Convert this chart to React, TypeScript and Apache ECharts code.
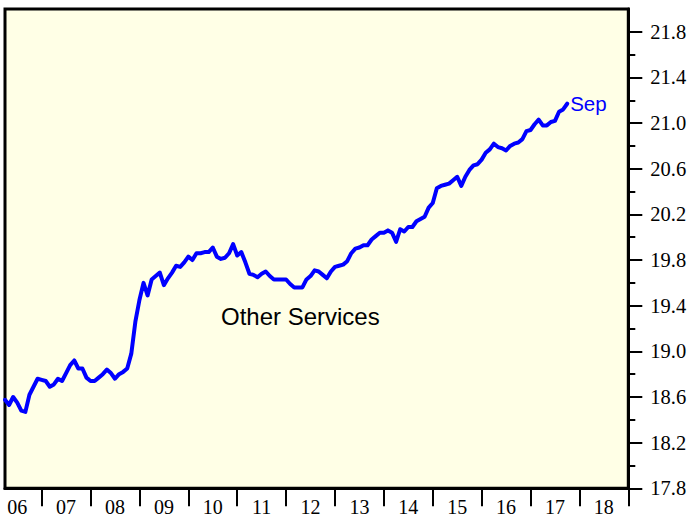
import { useEffect, useRef } from 'react';
import * as echarts from 'echarts';

// Monthly values, first point = March 2006, last = September 2017
const START_YEAR = 2006;
const START_MONTH = 3;
const v2006 = [18.575, 18.53, 18.6, 18.55, 18.48, 18.47, 18.62, 18.69, 18.76, 18.75];
const v2007 = [18.74, 18.69, 18.71, 18.76, 18.74, 18.81, 18.88, 18.92, 18.85, 18.85, 18.77, 18.74];
const v2008 = [18.74, 18.77, 18.8, 18.84, 18.81, 18.76, 18.8, 18.82, 18.85, 18.98, 19.26, 19.45];
const v2009 = [19.6, 19.49, 19.63, 19.66, 19.69, 19.58, 19.64, 19.69, 19.75, 19.74, 19.78, 19.83];
const v2010 = [19.8, 19.86, 19.86, 19.87, 19.87, 19.91, 19.83, 19.81, 19.82, 19.86, 19.94, 19.84];
const v2011 = [19.87, 19.78, 19.68, 19.67, 19.65, 19.68, 19.7, 19.66, 19.63, 19.63, 19.63, 19.63];
const v2012 = [19.59, 19.56, 19.56, 19.56, 19.63, 19.66, 19.71, 19.7, 19.67, 19.64, 19.7, 19.74];
const v2013 = [19.75, 19.76, 19.79, 19.86, 19.9, 19.91, 19.93, 19.93, 19.98, 20.01, 20.04, 20.04];
const v2014 = [20.06, 20.04, 19.96, 20.07, 20.05, 20.09, 20.09, 20.14, 20.16, 20.18, 20.26, 20.3];
const v2015 = [20.43, 20.45, 20.46, 20.47, 20.5, 20.53, 20.45, 20.53, 20.59, 20.63, 20.64, 20.68];
const v2016 = [20.74, 20.77, 20.82, 20.79, 20.78, 20.76, 20.8, 20.82, 20.83, 20.86, 20.93, 20.94];
const v2017 = [20.99, 21.03, 20.98, 20.98, 21.01, 21.02, 21.1, 21.12, 21.17];

const otherServices = [
  ...v2006, ...v2007, ...v2008, ...v2009, ...v2010, ...v2011,
  ...v2012, ...v2013, ...v2014, ...v2015, ...v2016, ...v2017,
];

const yMajorTicks = [17.8, 18.2, 18.6, 19.0, 19.4, 19.8, 20.2, 20.6, 21.0, 21.4, 21.8];
const yMinorTicks = [18.0, 18.4, 18.8, 19.2, 19.6, 20.0, 20.4, 20.8, 21.2, 21.6];
const yearTicks = [2007, 2008, 2009, 2010, 2011, 2012, 2013, 2014, 2015, 2016, 2017, 2018, 2019];
const yearLabels = ['06', '07', '08', '09', '10', '11', '12', '13', '14', '15', '16', '17', '18'];
const seriesTitle = 'Other Services';
const endLabelText = 'Sep';

export default function App() {
  const ref = useRef<HTMLDivElement>(null);
  useEffect(() => {
    if (!ref.current) return;
    const chart = echarts.init(ref.current, null, { renderer: 'svg' });
    const data = otherServices.map((v, i) => [START_YEAR + (START_MONTH + i) / 12, v]);
    const labelPositions = yearLabels.map((_, k) => START_YEAR + 0.5 + k);
    const tickLine = { color: '#000', width: 2 };
    chart.setOption({
      animation: false,
      backgroundColor: '#fff',
      grid: {
        left: 5,
        right: 62.7,
        top: 9,
        bottom: 33.7,
        show: true,
        borderColor: '#000',
        borderWidth: 3,
        backgroundColor: '#FFFFE6',
        containLabel: false,
      },
      xAxis: {
        type: 'value',
        min: 2006.25,
        max: 2019,
        axisLine: { show: true, onZero: false, lineStyle: { color: '#000', width: 3 } },
        axisTick: { show: true, length: 18, customValues: yearTicks, lineStyle: tickLine },
        axisLabel: {
          customValues: labelPositions,
          margin: 9,
          color: '#000',
          fontFamily: '"Liberation Serif", serif',
          fontSize: 20,
          formatter: (v: number) => yearLabels[Math.round(v - START_YEAR - 0.5)] ?? '',
        },
        splitLine: { show: false },
      },
      yAxis: [
        {
          type: 'value',
          position: 'right',
          min: 17.8,
          max: 22.0,
          axisLine: { show: true, onZero: false, lineStyle: { color: '#000', width: 3 } },
          axisTick: { show: true, length: 14, customValues: yMajorTicks, lineStyle: tickLine },
          axisLabel: {
            customValues: yMajorTicks,
            margin: 22,
            color: '#000',
            fontFamily: '"Liberation Serif", serif',
            fontSize: 20.5,
            formatter: (v: number) => v.toFixed(1),
          },
          splitLine: { show: false },
        },
        {
          type: 'value',
          position: 'right',
          min: 17.8,
          max: 22.0,
          axisLine: { show: false },
          axisTick: { show: true, length: 7, customValues: yMinorTicks, lineStyle: tickLine },
          axisLabel: { show: false },
          splitLine: { show: false },
        },
      ],
      graphic: [
        {
          type: 'text',
          x: 221,
          y: 316,
          style: {
            text: seriesTitle,
            fill: '#000',
            fontSize: 24,
            fontFamily: '"Liberation Sans", Arial, sans-serif',
            verticalAlign: 'middle',
            align: 'left',
          },
        },
      ],
      series: [
        {
          type: 'line',
          data,
          yAxisIndex: 0,
          showSymbol: false,
          symbol: 'none',
          lineStyle: { color: '#0000ff', width: 4, join: 'round', cap: 'round' },
          endLabel: {
            show: true,
            formatter: endLabelText,
            color: '#0000ff',
            fontSize: 20.5,
            fontFamily: '"Liberation Sans", Arial, sans-serif',
            distance: 3,
          },
          silent: true,
        },
      ],
    });
    return () => chart.dispose();
  }, []);
  return (
    <div
      ref={ref}
      style={{ position: 'fixed', left: 0, top: 0, width: 691, height: 522 }}
    />
  );
}
